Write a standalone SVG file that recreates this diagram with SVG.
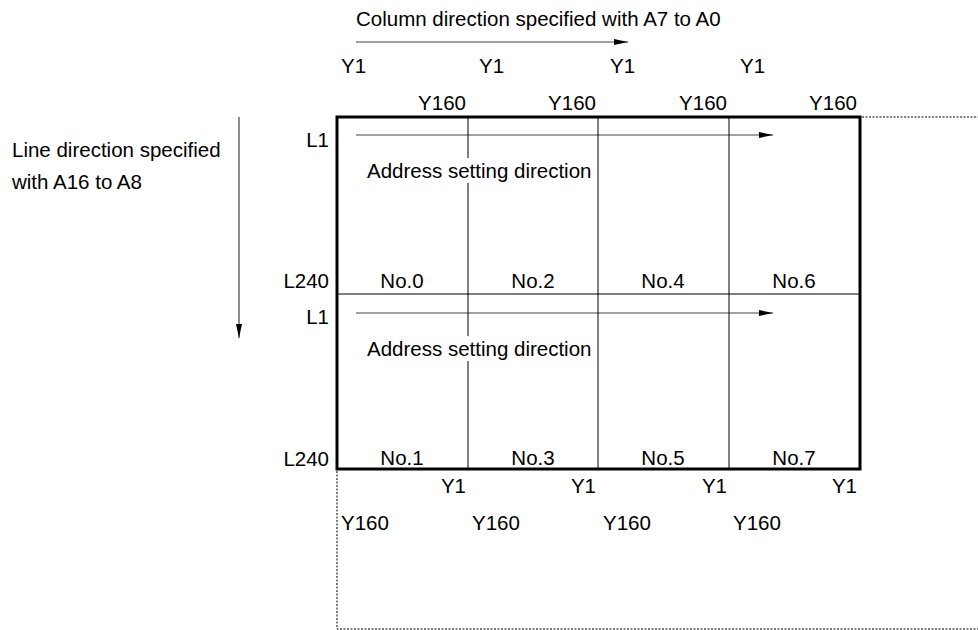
<svg xmlns="http://www.w3.org/2000/svg" width="978" height="630" viewBox="0 0 978 630">
<defs>
<marker id="ah" viewBox="0 0 14 6" refX="14" refY="3" markerWidth="14" markerHeight="6" markerUnits="userSpaceOnUse" orient="auto">
<path d="M0,0 L14,3 L0,6 z" fill="#000"/>
</marker>
<style>
text{font-family:"Liberation Sans",Arial,sans-serif;font-size:20.5px;fill:#000}
.r{text-anchor:end}
.m{text-anchor:middle}
.ln{stroke:#000;stroke-width:1;fill:none}
.arr{stroke:#444;stroke-width:1.2;fill:none;marker-end:url(#ah)}
.dot{stroke:#000;stroke-width:1;stroke-dasharray:2 1.5;fill:none}
</style>
</defs>
<rect width="978" height="630" fill="#fff"/>
<g id="connectors">
<line class="arr" x1="356" y1="42" x2="628" y2="42"/>
<line class="arr" x1="239" y1="117" x2="239" y2="338"/>
<line class="arr" x1="356" y1="135" x2="773" y2="135"/>
<line class="arr" x1="356" y1="313" x2="773" y2="313"/>
<polyline class="dot" points="862,117 978,117"/>
<polyline class="dot" points="337,471 337,629 978,629"/>
</g>
<g id="grid">
<line class="ln" x1="468" y1="117" x2="468" y2="469"/>
<line class="ln" x1="598" y1="117" x2="598" y2="469"/>
<line class="ln" x1="729" y1="117" x2="729" y2="469"/>
<line class="ln" x1="337" y1="294" x2="860" y2="294"/>
<rect x="337" y="117" width="523" height="352" fill="none" stroke="#000" stroke-width="3"/>
</g>
<g id="addr1">
<rect x="364" y="158" width="232" height="25" fill="#fff"/>
<text x="367" y="178">Address setting direction</text>
</g>
<g id="addr2">
<rect x="364" y="336" width="232" height="25" fill="#fff"/>
<text x="367" y="356">Address setting direction</text>
</g>
<g id="labels">
<text x="356" y="26">Column direction specified with A7 to A0</text>
<text x="12" y="157">Line direction specified</text>
<text x="12" y="189">with A16 to A8</text>
<text x="341" y="73">Y1</text>
<text x="479" y="73">Y1</text>
<text x="610" y="73">Y1</text>
<text x="740" y="73">Y1</text>
<text class="r" x="466" y="110">Y160</text>
<text class="r" x="596" y="110">Y160</text>
<text class="r" x="727" y="110">Y160</text>
<text class="r" x="857" y="110">Y160</text>
<text class="r" x="329" y="147">L1</text>
<text class="r" x="329" y="288">L240</text>
<text class="r" x="329" y="324">L1</text>
<text class="r" x="329" y="466">L240</text>
<text class="m" x="402" y="288">No.0</text>
<text class="m" x="533" y="288">No.2</text>
<text class="m" x="663" y="288">No.4</text>
<text class="m" x="794" y="288">No.6</text>
<text class="m" x="402" y="465">No.1</text>
<text class="m" x="533" y="465">No.3</text>
<text class="m" x="663" y="465">No.5</text>
<text class="m" x="794" y="465">No.7</text>
<text class="r" x="466" y="493">Y1</text>
<text class="r" x="596" y="493">Y1</text>
<text class="r" x="727" y="493">Y1</text>
<text class="r" x="857" y="493">Y1</text>
<text x="341" y="530">Y160</text>
<text x="472" y="530">Y160</text>
<text x="603" y="530">Y160</text>
<text x="733" y="530">Y160</text>
</g>
</svg>
